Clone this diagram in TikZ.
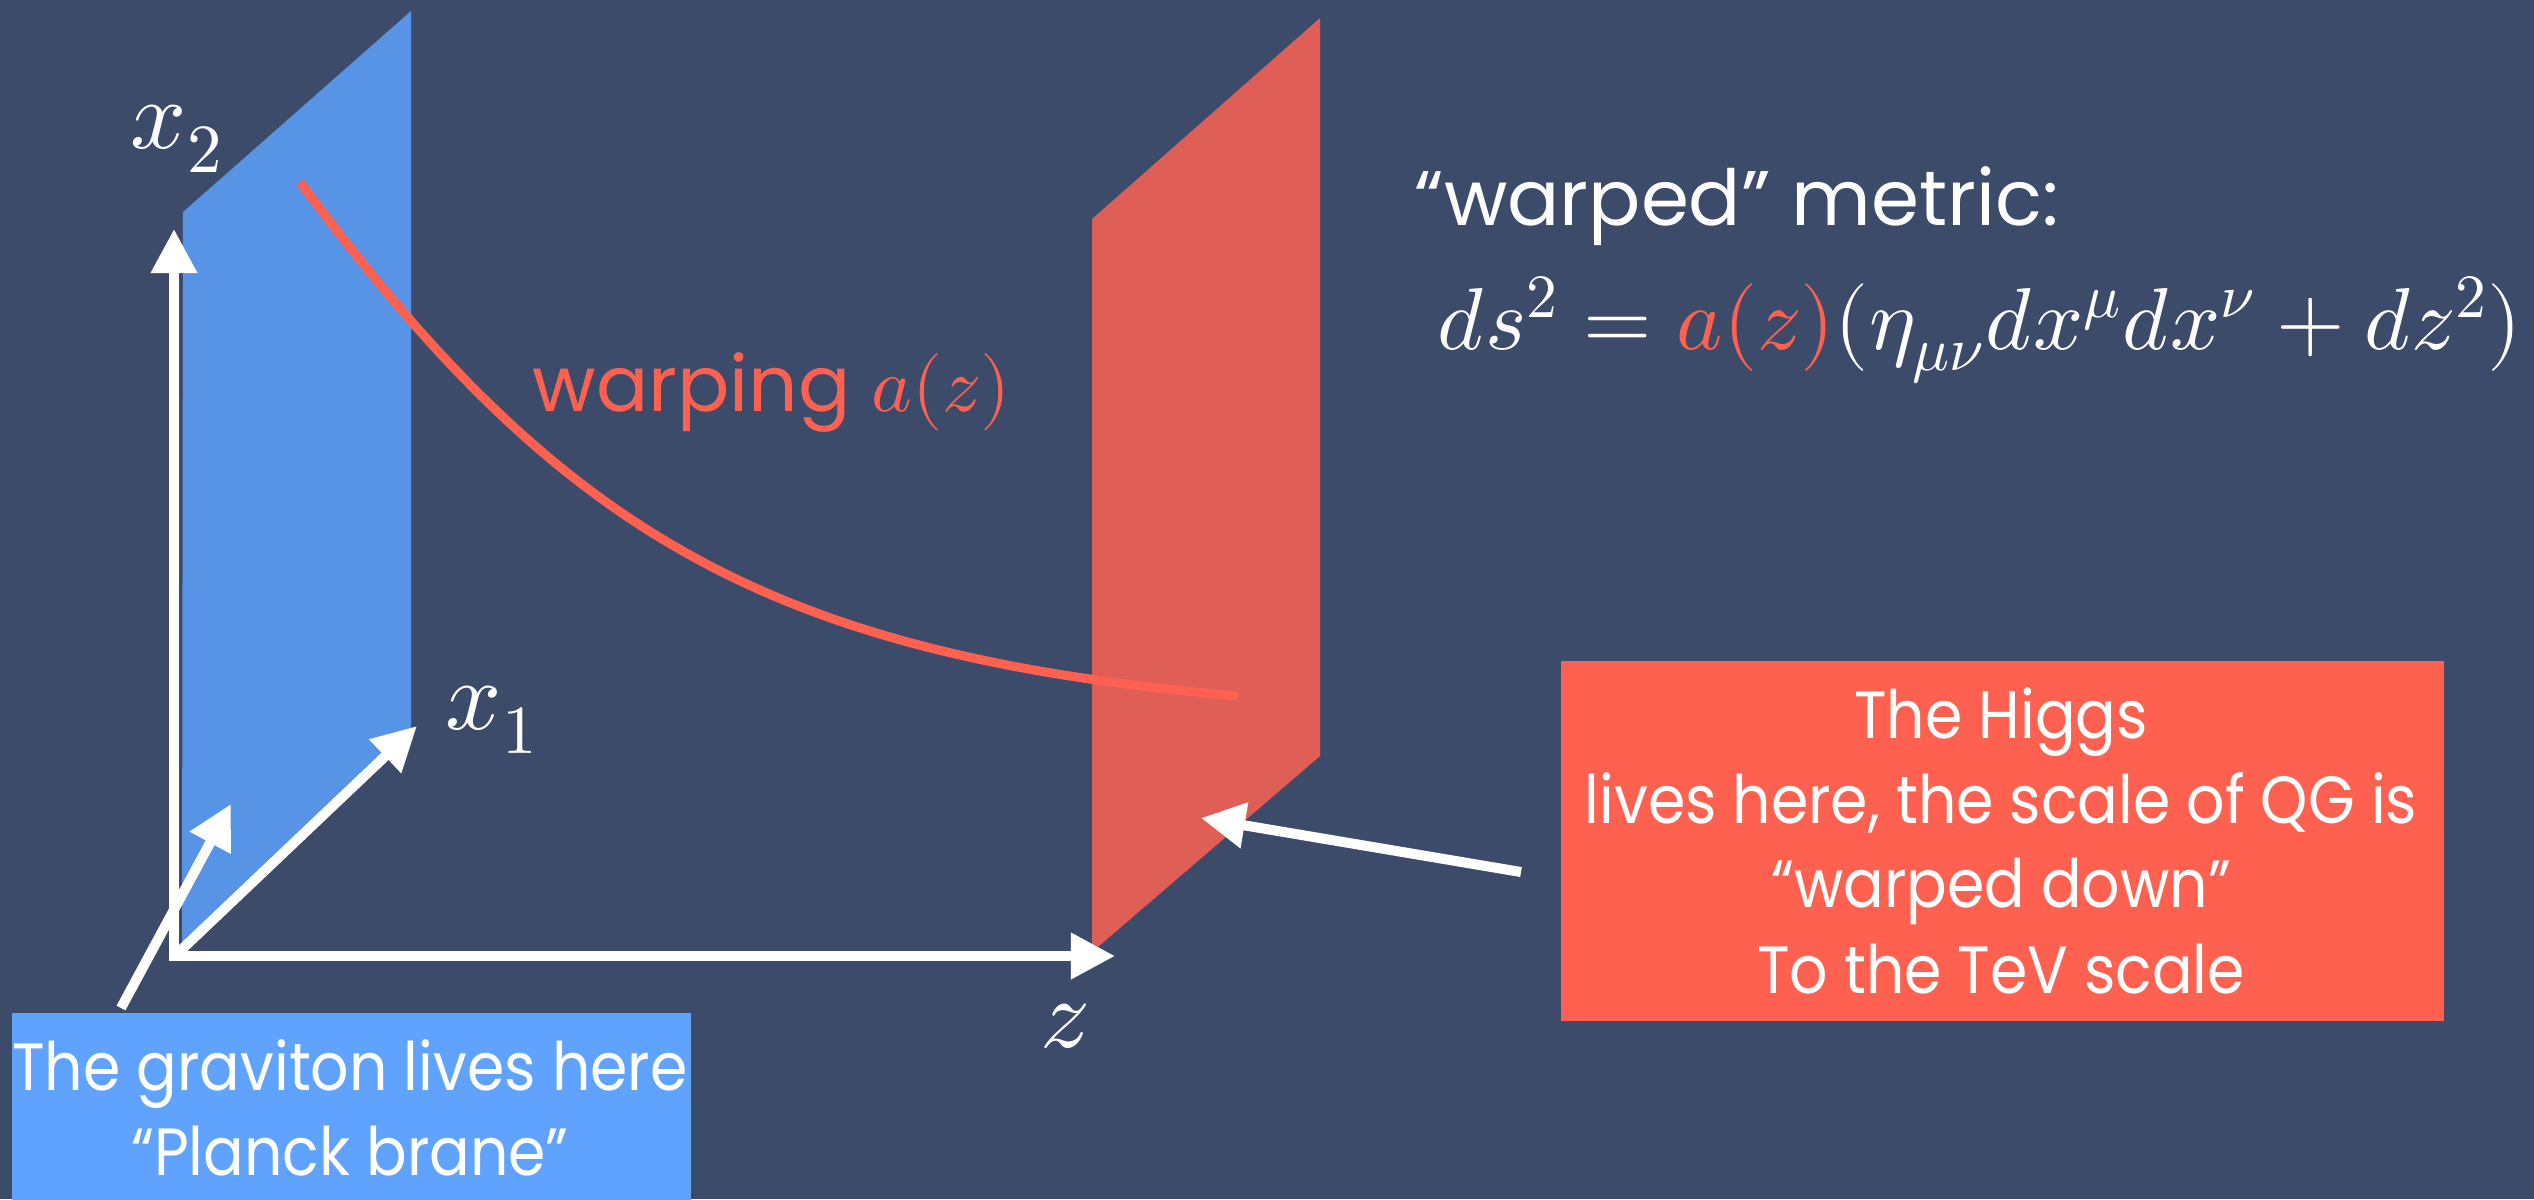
\documentclass[tikz,border=0pt]{standalone}
\usepackage{fontspec}
\usepackage{unicode-math}
\setmainfont{Poppins}
\setmathfont{Latin Modern Math}
\newfontfamily\narrowsans[FakeStretch=0.9]{Poppins}
\usetikzlibrary{arrows.meta}
\definecolor{bg}{RGB}{61,75,107}
\definecolor{planeblue}{RGB}{88,148,229}
\definecolor{boxblue}{RGB}{96,163,255}
\definecolor{planered}{RGB}{223,94,85}
\definecolor{warpred}{RGB}{255,97,80}
\tikzset{
  axisarrow/.style={white, line width=0.1cm, -{Triangle[length=0.44cm,width=0.44cm]}},
  pointer/.style={white, line width=0.1cm, -{Triangle[length=0.44cm,width=0.44cm]}},
  lbl/.style={text=white, inner sep=0pt, anchor=base west, font=\fontsize{28}{30}\selectfont},
  boxtext/.style={text=white, inner sep=0pt, anchor=base, font=\narrowsans\fontsize{19}{22}\selectfont},
  infobox/.style={inner sep=0pt, anchor=north west},
}
\begin{document}
\begin{tikzpicture}[x=0.01cm,y=-0.01cm]
\fill[bg] (0,0) rectangle (2534,1199);
\useasboundingbox (0,0) rectangle (2534,1199);
% branes
\fill[planeblue] (182,950) -- (411,738) -- (411,11) -- (183,212) -- cycle;
\fill[planered] (1092,952) -- (1320,756) -- (1320,18) -- (1092,219) -- cycle;
% warping curve
\coordinate (cs) at (300,182);
\coordinate (ce) at (1238,696);
\draw[warpred, line width=0.09cm] (cs) .. controls (560,533) and (768,655) .. (ce);
% axes
\coordinate (O2) at (174,951);
\coordinate (X2) at (174,229);
\coordinate (Oz) at (169,956);
\coordinate (Z) at (1115,956);
\coordinate (O1) at (179,952);
\coordinate (X1) at (417,726);
\draw[axisarrow] (O2) -- (X2);
\draw[axisarrow] (Oz) -- (Z);
\draw[axisarrow] (O1) -- (X1);
% axis labels
\node[lbl] (lx2) at (130,148) {$x_2$};
\node[lbl] (lx1) at (445,729) {$x_1$};
\node[lbl] (lz) at (1040,1047) {$z$};
% warping label
\node[text=warpred, inner sep=0pt, anchor=base west, font=\fontsize{22}{24}\selectfont] (warp) at (532,411) {warping $a(z)$};
% metric
\node[text=white, inner sep=0pt, anchor=base west, font=\fontsize{22}{24}\selectfont] (mhead) at (1414,225) {“warped” metric:};
\node[text=white, inner sep=0pt, anchor=base west, font=\fontsize{25}{27}\selectfont] (metric) at (1437,349)
  {$ds^2 = {\color{warpred}a(z)}(\eta_{\mu\nu}dx^\mu dx^\nu + dz^2)$};
% graviton box
\node[infobox, fill=boxblue, minimum width=6.79cm, minimum height=1.9cm] (gbox) at (11,1012) {};
\node[boxtext] (g1) at (350,1090) {The graviton lives here};
\node[boxtext] (g2) at (350,1175) {“Planck brane”};
% higgs box
\node[infobox, fill=warpred, minimum width=8.83cm, minimum height=3.6cm] (hbox) at (1560,660) {};
\node[boxtext] (h1) at (2001,738) {The Higgs};
\node[boxtext] (h2) at (2001,823) {lives here, the scale of QG is};
\node[boxtext] (h3) at (2001,907) {“warped down”};
\node[boxtext] (h4) at (2001,993) {To the TeV scale};
% pointers
\coordinate (gtail) at (121,1008);
\coordinate (gtip) at (231,804);
\draw[pointer] (gtail) -- (gtip);
\coordinate (htail) at (1521,872);
\coordinate (htip) at (1201,818);
\draw[pointer] (htail) -- (htip);
\end{tikzpicture}
\end{document}
